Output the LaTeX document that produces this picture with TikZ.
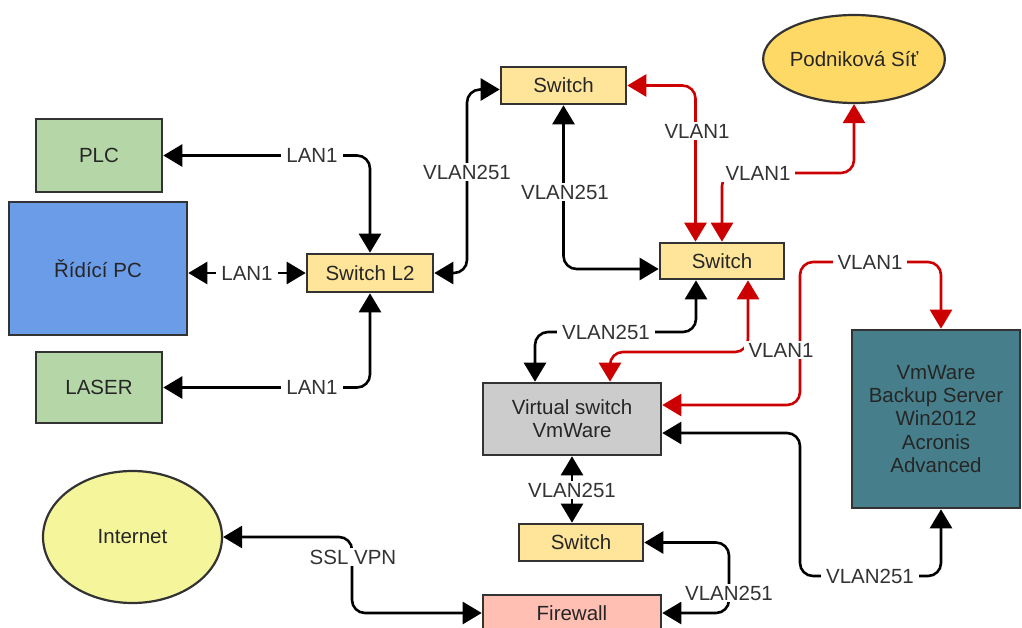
\documentclass[tikz,border=0pt]{standalone}
\usepackage{fontspec}
\setmainfont{Liberation Sans}
\usetikzlibrary{arrows.meta,shapes.geometric}

\definecolor{edgegray}{HTML}{333333}
\definecolor{txtgray}{HTML}{333333}
\definecolor{plcgreen}{HTML}{B5D7A8}
\definecolor{pcblue}{HTML}{6A9CE8}
\definecolor{swyellow}{HTML}{FFE59A}
\definecolor{netgold}{HTML}{FFD966}
\definecolor{vswgray}{HTML}{CCCCCC}
\definecolor{srvteal}{HTML}{467F8B}
\definecolor{inetyellow}{HTML}{F5F59C}
\definecolor{fwpink}{HTML}{FFBFB3}
\definecolor{vlanred}{HTML}{CC0000}

\tikzset{
  box/.style={draw=edgegray, line width=2.6pt, rectangle, align=center,
              font=\fontsize{20.5}{23.3}\selectfont, text=black!85, inner sep=0pt},
  oval/.style={draw=edgegray, line width=2.2pt, ellipse, inner sep=0pt,
               font=\fontsize{20.5}{23.3}\selectfont, text=black!85},
  tip/.tip={Triangle[length=19pt,width=22pt]},
  conn/.style={line width=2.6pt, rounded corners=13pt, tip-tip},
  blackconn/.style={conn, draw=black},
  redconn/.style={conn, draw=vlanred},
  lbl/.style={fill=white, inner xsep=5pt, inner ysep=2pt, text=txtgray,
              font=\fontsize{20.5}{23.3}\selectfont}
}

\begin{document}
\begin{tikzpicture}[x=1pt,y=-1pt]
\useasboundingbox (0,0) rectangle (1022,628);
\clip (0,0) rectangle (1022,628);

% devices
\node[box, fill=plcgreen, minimum width=126pt, minimum height=73pt] (plc) at (99,155.5) {PLC};
\node[box, fill=pcblue, minimum width=178pt, minimum height=133pt] (pc) at (98,268.5) {Řídící PC};
\node[box, fill=plcgreen, minimum width=126pt, minimum height=71pt] (laser) at (99,387.5) {LASER};
\node[box, fill=swyellow, minimum width=126pt, minimum height=38pt] (swl2) at (370,273) {Switch L2};
\node[box, fill=swyellow, minimum width=125pt, minimum height=37pt] (swtop) at (563.5,85.5) {Switch};
\node[oval, fill=netgold, minimum width=178pt, minimum height=88pt] (podnik) at (854,59) {Podniková Síť};
\node[box, fill=swyellow, minimum width=124pt, minimum height=36pt] (swmid) at (722,261) {Switch};
\node[box, fill=vswgray, minimum width=178pt, minimum height=72pt] (vsw) at (572,419) {Virtual switch\\VmWare};
\node[box, fill=srvteal, minimum width=168pt, minimum height=178pt] (server) at (936,419)
  {VmWare\\Backup Server\\Win2012\\Acronis\\Advanced};
\node[box, fill=swyellow, minimum width=124pt, minimum height=37pt] (swbot) at (581,542.5) {Switch};
\node[box, fill=fwpink, minimum width=178pt, minimum height=36pt] (firewall) at (572,613) {Firewall};
\node[oval, fill=inetyellow, minimum width=179pt, minimum height=132pt] (internet) at (132.5,537) {Internet};

% LAN1 links around Switch L2
\draw[blackconn] (swl2.north) |- (plc.east);
\draw[blackconn] (pc.east |- swl2.west) -- (swl2.west);
\draw[blackconn] (swl2.south) |- (laser.east);

% VLAN251 links
\draw[blackconn] (swl2.east) -| (467,180) |- ([yshift=-4pt]swtop.west);
\draw[blackconn] (swtop.south) |- ([yshift=-8pt]swmid.west);
\draw[blackconn] ([xshift=-26pt]swmid.south) |- (600,332) -| ([xshift=-37pt]vsw.north);
\draw[blackconn] ([yshift=-14pt]vsw.east) -| (800,500) |- (870,576) -| ([xshift=5pt]server.south);
\draw[blackconn] (vsw.south) -- (vsw.south |- swbot.north);
\draw[blackconn] (swbot.east) -| (729,580) |- (firewall.east);
\draw[blackconn] (internet.east) -| (352,580) |- (firewall.west);

% VLAN1 links
\draw[redconn] (swtop.east) -| ([xshift=-26.5pt]swmid.north);
\draw[redconn] (swmid.north) |- (790,173) -| (podnik.south);
\draw[redconn] ([xshift=26pt]swmid.south) |- (650,352) -| ([xshift=38pt]vsw.north);
\draw[redconn] ([yshift=14pt]vsw.east) -| (800,330) |- (870,262) -| ([xshift=5pt]server.north);

% link labels
\node[lbl] (l1) at (312,155.5) {LAN1};
\node[lbl] (l2) at (247,273) {LAN1};
\node[lbl] (l3) at (312,387) {LAN1};
\node[lbl] (l4) at (467,172) {VLAN251};
\node[lbl] (l5) at (565,192) {VLAN251};
\node[lbl] (l6) at (697,131) {VLAN1};
\node[lbl] (l7) at (758,173) {VLAN1};
\node[lbl] (l8) at (870,262) {VLAN1};
\node[lbl] (l9) at (606,332) {VLAN251};
\node[lbl] (l10) at (781,350) {VLAN1};
\node[lbl] (l11) at (572,490) {VLAN251};
\node[lbl] (l12) at (870,576) {VLAN251};
\node[lbl] (l13) at (729,593) {VLAN251};
\node[lbl] (l14) at (353,557) {SSL VPN};
\end{tikzpicture}
\end{document}
